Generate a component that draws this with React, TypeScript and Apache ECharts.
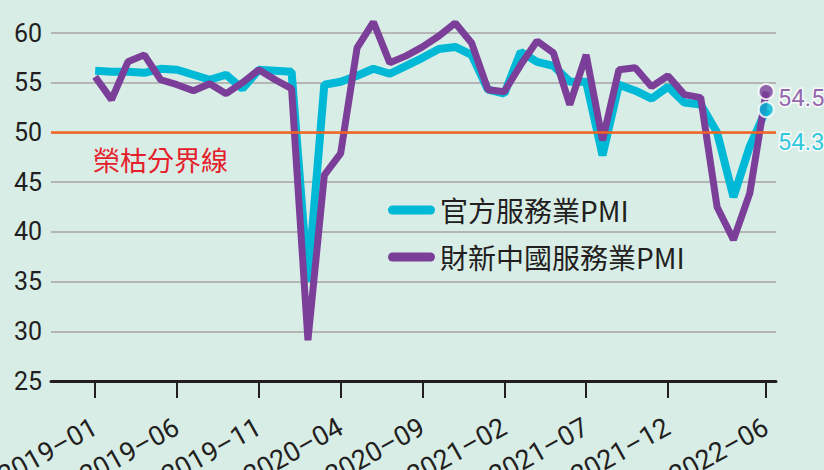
import React, { useEffect, useRef } from "react";
import * as echarts from "echarts";

const months = [
  "2019-01", "2019-02", "2019-03", "2019-04", "2019-05", "2019-06",
  "2019-07", "2019-08", "2019-09", "2019-10", "2019-11", "2019-12",
  "2020-01", "2020-02", "2020-03", "2020-04", "2020-05", "2020-06",
  "2020-07", "2020-08", "2020-09", "2020-10", "2020-11", "2020-12",
  "2021-01", "2021-02", "2021-03", "2021-04", "2021-05", "2021-06",
  "2021-07", "2021-08", "2021-09", "2021-10", "2021-11", "2021-12",
  "2022-01", "2022-02", "2022-03", "2022-04", "2022-05", "2022-06",
];

const officialPMI = [
  56.2, 56.1, 56.1, 56.0, 56.4, 56.3, 55.8, 55.3, 55.8, 54.4, 56.3, 56.2,
  56.1, 35.0, 54.8, 55.1, 55.7, 56.4, 55.9, 56.7, 57.5, 58.4, 58.6, 57.8,
  54.3, 53.9, 58.1, 57.1, 56.7, 55.1, 55.1, 47.7, 54.8, 54.2, 53.4, 54.6,
  53.0, 52.8, 50.0, 43.5, 48.6, 52.3,
];

const caixinPMI = [
  55.6, 53.3, 57.1, 57.8, 55.3, 54.8, 54.2, 54.9, 53.9, 55.0, 56.3, 55.3,
  54.4, 29.1, 45.7, 47.9, 58.5, 61.1, 57.0, 57.7, 58.6, 59.7, 61.0, 59.0,
  54.3, 54.1, 56.8, 59.2, 58.0, 52.8, 57.8, 49.2, 56.3, 56.5, 54.6, 55.7,
  53.8, 53.5, 42.5, 39.2, 43.9, 54.1,
];

const seriesNames = ["官方服務業PMI", "財新中國服務業PMI"];
const latestLabels = ["54.3", "54.5"];
const xTickIndices = [0, 5, 10, 15, 20, 25, 30, 35, 41];
const thresholdValue = 50;
const thresholdLabel = "榮枯分界線";

const NUM_FONT = 'Roboto, "Liberation Sans", sans-serif';
const CJK = '"Noto Sans CJK TC", "Noto Sans CJK SC", sans-serif';
const CYAN = "#00b9d6";
const PURPLE = "#7b3f99";
const INK = "#231f20";

const pill =
  "path://M4.5,0 L42.5,0 A4.5,4.5 0 0 1 42.5,9 L4.5,9 A4.5,4.5 0 0 1 4.5,0 Z";

export default function App() {
  const ref = useRef<HTMLDivElement>(null);

  useEffect(() => {
    document.body.style.margin = "0";
    if (!ref.current) return;
    const chart = echarts.init(ref.current, null, { renderer: "svg" });
    const toPairs = (arr: number[]) => arr.map((v, i) => [i, v]);
    const last = months.length - 1;

    chart.setOption({
      animation: false,
      backgroundColor: "#d9ede7",
      grid: {
        left: 51,
        right: 48,
        top: 33,
        bottom: 89,
        containLabel: false,
        outerBoundsMode: "none",
      },
      legend: {
        data: seriesNames,
        orient: "vertical",
        left: 383,
        top: 189,
        itemWidth: 47,
        itemHeight: 9,
        itemGap: 15,
        icon: pill,
        textStyle: { fontSize: 28, fontFamily: CJK, color: INK, lineHeight: 32 },
      },
      xAxis: {
        type: "value",
        min: -2.7,
        max: 41.6,
        axisLine: { show: true, onZero: false, lineStyle: { color: INK, width: 3 } },
        axisTick: {
          show: true,
          customValues: xTickIndices,
          length: 17,
          lineStyle: { color: INK, width: 2 },
        },
        axisLabel: {
          customValues: xTickIndices,
          formatter: (v: number) => months[Math.round(v)].replace("-", "–"),
          rotate: 29,
          margin: 44,
          fontSize: 27,
          fontFamily: NUM_FONT,
          color: INK,
        },
        splitLine: { show: false },
      },
      yAxis: {
        type: "value",
        min: 25,
        max: 60,
        interval: 5,
        axisLine: { show: false },
        axisTick: { show: false },
        axisLabel: { fontSize: 25, fontFamily: NUM_FONT, color: INK, margin: 9 },
        splitLine: { lineStyle: { color: "#b5b5b5", width: 2 } },
      },
      graphic: [
        {
          type: "text",
          left: 93,
          top: 146,
          style: {
            text: thresholdLabel,
            fontSize: 27,
            fontFamily: CJK,
            fill: "#e5202a",
          },
          z: 10,
        },
      ],
      series: [
        {
          name: seriesNames[0],
          type: "line",
          data: toPairs(officialPMI),
          symbol: "none",
          clip: false,
          color: CYAN,
          lineStyle: { color: CYAN, width: 8 },
          z: 3,
          markLine: {
            silent: true,
            symbol: "none",
            label: { show: false },
            lineStyle: { color: "#f26522", width: 2.5, type: "solid" },
            data: [{ yAxis: thresholdValue }],
          },
        },
        {
          name: seriesNames[1],
          type: "line",
          data: toPairs(caixinPMI),
          symbol: "none",
          clip: false,
          color: PURPLE,
          lineStyle: { color: PURPLE, width: 7 },
          z: 4,
        },
        {
          name: "officialLatest",
          type: "scatter",
          data: [[last, officialPMI[last]]],
          symbol: "circle",
          symbolSize: 15,
          clip: false,
          itemStyle: { color: CYAN, borderColor: "#ffffff", borderWidth: 2 },
          label: {
            show: true,
            position: "right",
            distance: 3,
            offset: [0, 32],
            formatter: () => latestLabels[0],
            fontSize: 24,
            fontFamily: NUM_FONT,
            color: CYAN,
            textBorderColor: "#ffffff",
            textBorderWidth: 3,
          },
          z: 6,
        },
        {
          name: "caixinLatest",
          type: "scatter",
          data: [[last, caixinPMI[last]]],
          symbol: "circle",
          symbolSize: 15,
          clip: false,
          itemStyle: { color: PURPLE, borderColor: "#ffffff", borderWidth: 2 },
          label: {
            show: true,
            position: "right",
            distance: 3,
            offset: [0, 6],
            formatter: () => latestLabels[1],
            fontSize: 24,
            fontFamily: NUM_FONT,
            color: PURPLE,
            textBorderColor: "#ffffff",
            textBorderWidth: 3,
          },
          z: 7,
        },
      ],
    });

    return () => chart.dispose();
  }, []);

  return (
    <div
      ref={ref}
      style={{ position: "absolute", left: 0, top: 0, width: 824, height: 470 }}
    />
  );
}
